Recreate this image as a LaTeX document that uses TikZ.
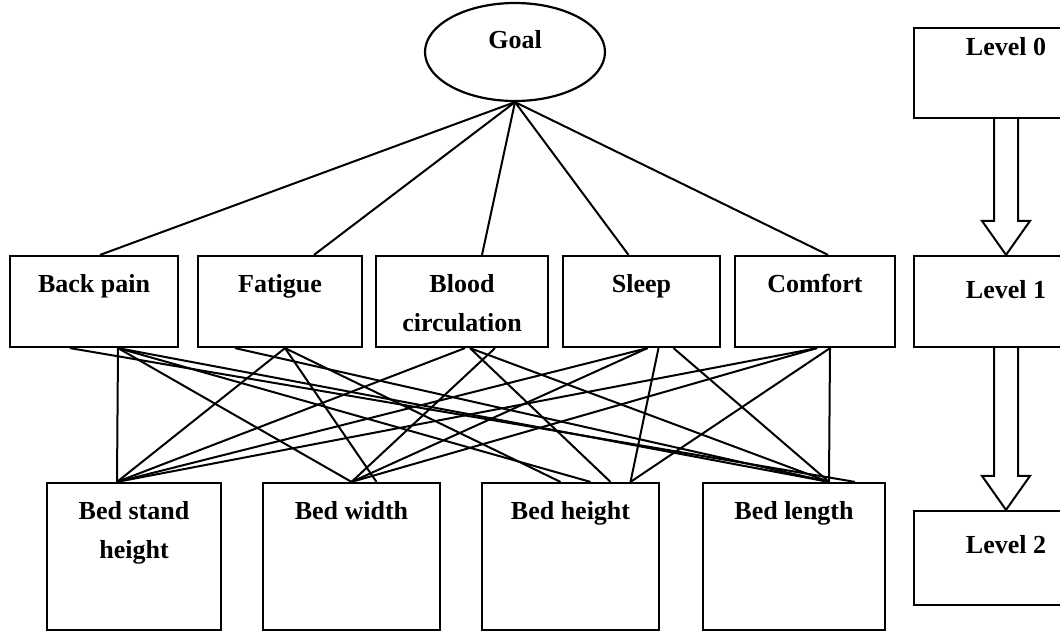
\documentclass[tikz,border=0pt]{standalone}
\usepackage{fontspec}
\setmainfont{Liberation Serif}
\usetikzlibrary{shapes.geometric, positioning, calc}

\begin{document}
\begin{tikzpicture}[x=0.5pt, y=-0.5pt, node distance=9.5pt]
	\tikzstyle{rect} = [rectangle, draw=black, line width=1.1pt, inner sep=0pt]
	\tikzstyle{crit} = [rect, minimum height=45.5pt]
	\tikzstyle{alt} = [rect, minimum height=73.5pt]
	\tikzstyle{lvl} = [rect, minimum width=92pt]
	\tikzstyle{txt} = [inner sep=0pt, align=center, font=\fontsize{13}{19.5}\selectfont\bfseries]
	\tikzstyle{link} = [line width=1pt]
	\tikzstyle{hollow} = [draw=black, line width=1pt, fill=white, line join=miter]

	\useasboundingbox (0,0) rectangle (1060,633);

	% level 0
	\node (goal) at (515,52) [ellipse, draw=black, line width=1.1pt, minimum width=90pt, minimum height=49pt] {};
	\node (goalt) at (515,40) [txt] {Goal};

	% level 1
	\node (bp) at (94,301.5) [crit, minimum width=84pt] {};
	\node (ft) at (280,301.5) [crit, minimum width=82pt] {};
	\node (bc) at (462,301.5) [crit, minimum width=86pt] {};
	\node (sl) at (641.5,301.5) [crit, minimum width=78.5pt] {};
	\node (cf) at (815,301.5) [crit, minimum width=80pt] {};
	\node (bpt) [txt, below=of bp.north] {Back pain};
	\node (ftt) [txt, below=of ft.north] {Fatigue};
	\node (bct) [txt, below=of bc.north] {Blood\\circulation};
	\node (slt) [txt, below=of sl.north] {Sleep};
	\node (cft) [txt, below=of cf.north] {Comfort};

	% level 2
	\node (bsh) at (134,556.5) [alt, minimum width=87pt] {};
	\node (bw) at (351.5,556.5) [alt, minimum width=88.5pt] {};
	\node (bh) at (570.5,556.5) [alt, minimum width=88.5pt] {};
	\node (bl) at (794,556.5) [alt, minimum width=91pt] {};
	\node (bsht) [txt, below=of bsh.north] {Bed stand\\height};
	\node (bwt) [txt, below=of bw.north] {Bed width};
	\node (bht) [txt, below=of bh.north] {Bed height};
	\node (blt) [txt, below=of bl.north] {Bed length};

	% levels on the right
	\node (l0) at (1006,73) [lvl, minimum height=45pt] {};
	\node (l1) at (1006,301.5) [lvl, minimum height=45.5pt] {};
	\node (l2) at (1006,558) [lvl, minimum height=47pt] {};
	\node (l0t) at (1006,47) [txt] {Level 0};
	\node (l1t) at (1006,290) [txt] {Level 1};
	\node (l2t) at (1006,545) [txt] {Level 2};

	\draw [hollow] ($(l0.south)+(-12,0)$) -- ($(l1.north)+(-12,-34)$) -- ($(l1.north)+(-24,-34)$) -- (l1.north)
		-- ($(l1.north)+(24,-34)$) -- ($(l1.north)+(12,-34)$) -- ($(l0.south)+(12,0)$);
	\draw [hollow] ($(l1.south)+(-12,0)$) -- ($(l2.north)+(-12,-34)$) -- ($(l2.north)+(-24,-34)$) -- (l2.north)
		-- ($(l2.north)+(24,-34)$) -- ($(l2.north)+(12,-34)$) -- ($(l1.south)+(12,0)$);

	% goal to criteria
	\draw [link] (goal.south) -- ([xshift=3pt]bp.north);
	\draw [link] (goal.south) -- ([xshift=17pt]ft.north);
	\draw [link] (goal.south) -- ([xshift=10pt]bc.north);
	\draw [link] (goal.south) -- ([xshift=-6.5pt]sl.north);
	\draw [link] (goal.south) -- ([xshift=6.5pt]cf.north);

	% criteria to alternatives
	\draw [link] ([xshift=12pt]bp.south) -- ([xshift=-8.5pt]bsh.north);
	\draw [link] ([xshift=12pt]bp.south) -- (bw.north);
	\draw [link] ([xshift=12pt]bp.south) -- ([xshift=10pt]bh.north);
	\draw [link] ([xshift=12pt]bp.south) -- ([xshift=17.5pt]bl.north);
	\draw [link] ([xshift=-12pt]bp.south) -- ([xshift=30.5pt]bl.north);

	\draw [link] ([xshift=2.5pt]ft.south) -- ([xshift=-8.5pt]bsh.north);
	\draw [link] ([xshift=2.5pt]ft.south) -- ([xshift=12.5pt]bw.north);
	\draw [link] ([xshift=2.5pt]ft.south) -- ([xshift=-5pt]bh.north);
	\draw [link] ([xshift=-22.5pt]ft.south) -- ([xshift=17.5pt]bl.north);

	\draw [link] ([xshift=1.5pt]bc.south) -- ([xshift=-8.5pt]bsh.north);
	\draw [link] ([xshift=16.5pt]bc.south) -- (bw.north);
	\draw [link] ([xshift=4pt]bc.south) -- ([xshift=20pt]bh.north);
	\draw [link] ([xshift=4pt]bc.south) -- ([xshift=17.5pt]bl.north);

	\draw [link] ([xshift=3pt]sl.south) -- ([xshift=-8.5pt]bsh.north);
	\draw [link] ([xshift=3pt]sl.south) -- (bw.north);
	\draw [link] ([xshift=8.5pt]sl.south) -- ([xshift=30pt]bh.north);
	\draw [link] ([xshift=16pt]sl.south) -- ([xshift=17.5pt]bl.north);

	\draw [link] ([xshift=1pt]cf.south) -- ([xshift=-8.5pt]bsh.north);
	\draw [link] ([xshift=1pt]cf.south) -- (bw.north);
	\draw [link] ([xshift=7.5pt]cf.south) -- ([xshift=30pt]bh.north);
	\draw [link] ([xshift=7.5pt]cf.south) -- ([xshift=17.5pt]bl.north);

\end{tikzpicture}
\end{document}
